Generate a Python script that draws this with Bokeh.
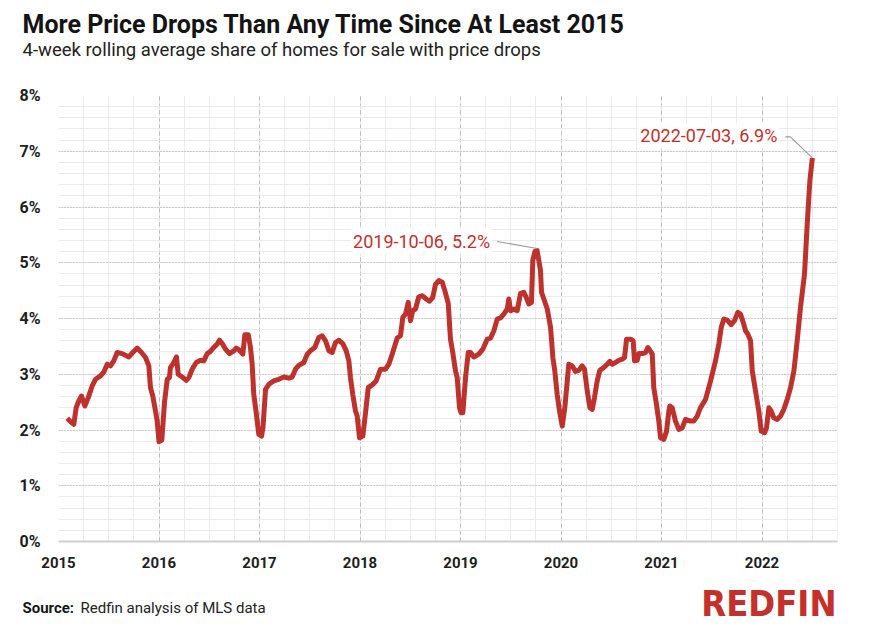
from bokeh.plotting import figure
from bokeh.layouts import column
from bokeh.models import (ColumnDataSource, SingleIntervalTicker, PrintfTickFormatter,
                          Label, Range1d)
from bokeh.embed import file_html
from bokeh.resources import INLINE

# ---------------- data (decimal year of week, share of listings with price drop, %) ----
t_2015 = [2015.087, 2015.119, 2015.152, 2015.176, 2015.202, 2015.229, 2015.262, 2015.296,
          2015.335, 2015.368, 2015.418, 2015.451, 2015.485, 2015.517, 2015.550, 2015.584,
          2015.634, 2015.700, 2015.739, 2015.783, 2015.826, 2015.866, 2015.899, 2015.915,
          2015.938, 2015.965, 2015.982]
v_2015 = [2.21, 2.15, 2.10, 2.40, 2.52, 2.61, 2.43, 2.58, 2.79, 2.91, 2.97, 3.04, 3.18, 3.15,
          3.24, 3.39, 3.37, 3.31, 3.39, 3.47, 3.39, 3.30, 3.15, 2.76, 2.61, 2.34, 2.16]

t_2016 = [2016.000, 2016.028, 2016.055, 2016.082, 2016.104, 2016.114, 2016.147, 2016.174,
          2016.191, 2016.231, 2016.271, 2016.297, 2016.330, 2016.370, 2016.413, 2016.446,
          2016.480, 2016.512, 2016.545, 2016.579, 2016.602, 2016.629, 2016.662, 2016.701,
          2016.744, 2016.768, 2016.801, 2016.834, 2016.854, 2016.888, 2016.910, 2016.927,
          2016.943, 2016.967, 2016.993]
v_2016 = [1.79, 1.82, 2.50, 2.91, 2.94, 3.12, 3.21, 3.31, 3.00, 2.95, 2.89, 2.94, 3.09, 3.21,
          3.25, 3.24, 3.37, 3.41, 3.48, 3.54, 3.61, 3.55, 3.45, 3.37, 3.42, 3.47, 3.43, 3.36,
          3.71, 3.71, 3.48, 3.18, 2.64, 2.31, 1.92]

t_2017 = [2017.020, 2017.035, 2017.060, 2017.093, 2017.142, 2017.192, 2017.242, 2017.292,
          2017.325, 2017.358, 2017.391, 2017.441, 2017.475, 2017.507, 2017.550, 2017.590,
          2017.624, 2017.657, 2017.690, 2017.723, 2017.756, 2017.789, 2017.829, 2017.863,
          2017.889, 2017.905, 2017.928, 2017.955, 2017.972, 2017.995]
v_2017 = [1.89, 2.05, 2.73, 2.82, 2.88, 2.91, 2.95, 2.93, 2.95, 3.09, 3.16, 3.21, 3.36, 3.42,
          3.48, 3.66, 3.69, 3.60, 3.42, 3.39, 3.57, 3.61, 3.55, 3.42, 3.24, 2.94, 2.64, 2.34,
          2.25, 1.86]

t_2018 = [2018.028, 2018.055, 2018.082, 2018.121, 2018.161, 2018.204, 2018.254, 2018.287,
          2018.320, 2018.370, 2018.403, 2018.426, 2018.453, 2018.480, 2018.502, 2018.525,
          2018.552, 2018.585, 2018.619, 2018.659, 2018.692, 2018.724, 2018.751, 2018.784,
          2018.818, 2018.844, 2018.878, 2018.900, 2018.923, 2018.950, 2018.967, 2018.990]
v_2018 = [1.89, 2.31, 2.76, 2.81, 2.88, 3.09, 3.09, 3.18, 3.36, 3.65, 3.69, 4.02, 4.08, 4.29,
          3.96, 4.14, 4.17, 4.39, 4.41, 4.35, 4.31, 4.38, 4.61, 4.68, 4.65, 4.50, 4.27, 3.63,
          3.39, 3.06, 2.94, 2.40]

t_2019 = [2019.005, 2019.023, 2019.050, 2019.077, 2019.100, 2019.132, 2019.182, 2019.222,
          2019.266, 2019.299, 2019.332, 2019.365, 2019.398, 2019.431, 2019.465, 2019.481,
          2019.498, 2019.531, 2019.564, 2019.597, 2019.630, 2019.654, 2019.680, 2019.706,
          2019.719, 2019.740, 2019.762, 2019.796, 2019.806, 2019.829, 2019.863, 2019.896,
          2019.919, 2019.938, 2019.962, 2019.985]
v_2019 = [2.31, 2.31, 2.94, 3.39, 3.39, 3.31, 3.36, 3.45, 3.63, 3.65, 3.78, 3.99, 4.01, 4.08,
          4.17, 4.35, 4.14, 4.17, 4.14, 4.45, 4.47, 4.38, 4.26, 4.29, 5.04, 5.20, 5.22, 4.86,
          4.47, 4.35, 4.17, 3.84, 3.30, 3.06, 2.64, 2.34]

t_2020 = [2020.012, 2020.038, 2020.062, 2020.077, 2020.112, 2020.144, 2020.177, 2020.211,
          2020.234, 2020.261, 2020.287, 2020.311, 2020.333, 2020.360, 2020.386, 2020.426,
          2020.460, 2020.486, 2020.509, 2020.542, 2020.575, 2020.609, 2020.632, 2020.652,
          2020.692, 2020.718, 2020.731, 2020.758, 2020.774, 2020.808, 2020.841, 2020.864,
          2020.884, 2020.908, 2020.923, 2020.950, 2020.973, 2020.990]
v_2020 = [2.07, 2.40, 2.88, 3.18, 3.15, 3.05, 3.07, 3.15, 3.09, 2.70, 2.40, 2.37, 2.58, 2.88,
          3.07, 3.12, 3.18, 3.23, 3.18, 3.21, 3.25, 3.27, 3.30, 3.63, 3.63, 3.60, 3.24, 3.25,
          3.37, 3.37, 3.39, 3.48, 3.43, 3.36, 2.76, 2.46, 2.16, 1.86]

t_2021 = [2021.023, 2021.050, 2021.073, 2021.083, 2021.106, 2021.139, 2021.172, 2021.206,
          2021.239, 2021.289, 2021.321, 2021.355, 2021.388, 2021.438, 2021.488, 2021.537,
          2021.570, 2021.594, 2021.620, 2021.654, 2021.693, 2021.726, 2021.759, 2021.786,
          2021.813, 2021.836, 2021.859, 2021.886, 2021.903, 2021.935, 2021.968, 2021.992]
v_2021 = [1.83, 1.98, 2.34, 2.43, 2.40, 2.16, 2.01, 2.04, 2.19, 2.16, 2.16, 2.25, 2.40, 2.55,
          2.88, 3.24, 3.54, 3.84, 3.99, 3.97, 3.89, 3.96, 4.11, 4.08, 3.93, 3.78, 3.72, 3.60,
          3.06, 2.70, 2.34, 1.98]

t_2022 = [2022.025, 2022.045, 2022.068, 2022.091, 2022.117, 2022.151, 2022.184, 2022.217,
          2022.251, 2022.284, 2022.317, 2022.350, 2022.383, 2022.423, 2022.450, 2022.476,
          2022.501]
v_2022 = [1.95, 2.04, 2.40, 2.34, 2.22, 2.19, 2.25, 2.37, 2.55, 2.76, 3.06, 3.60, 4.20, 4.80,
          5.70, 6.47, 6.88]

ann1_t, ann1_v, ann1_text = 2019.762, 5.22, "2019-10-06, 5.2%"
ann2_t, ann2_v, ann2_text = 2022.501, 6.88, "2022-07-03, 6.9%"

title = "More Price Drops Than Any Time Since At Least 2015"
subtitle = "4-week rolling average share of homes for sale with price drops"
source_bold = "Source:"
source_text = "Redfin analysis of MLS data"
logo_text = "REDFIN"

# ---------------- assemble -------------------------------------------------------------
t_all = t_2015 + t_2016 + t_2017 + t_2018 + t_2019 + t_2020 + t_2021 + t_2022
v_all = v_2015 + v_2016 + v_2017 + v_2018 + v_2019 + v_2020 + v_2021 + v_2022
src = ColumnDataSource(dict(t=t_all, v=v_all))

RED = "#be322d"
W = 872
HEAD_H = 85
BL, BR, BT, BB = 58, 35, 10, 34
FH = 446
MAIN_H = BT + FH + BB
FOOT_H = 61
X0, X1 = 2015.0, 2022.751
Y0, Y1 = 0.0, 8.0
FW = W - BL - BR
PXX = FW / (X1 - X0)   # px per year
PXY = FH / (Y1 - Y0)   # px per percent


def text_panel(h):
    f = figure(width=W, height=h, x_range=Range1d(0, W), y_range=Range1d(0, h),
               x_axis_type=None, y_axis_type=None, output_backend="svg",
               toolbar_location=None, min_border=0, outline_line_color=None,
               background_fill_color="white", border_fill_color="white",
               frame_align=False)
    f.xgrid.visible = False
    f.ygrid.visible = False
    return f


# ---- header
head = text_panel(HEAD_H)
head.add_layout(Label(x=22, y=HEAD_H - 24, text=title, text_font="Roboto",
                      text_font_style="bold", text_font_size="25px", text_color="#141414",
                      text_baseline="alphabetic"))
head.add_layout(Label(x=22, y=HEAD_H - 49, text=subtitle, text_font="Roboto",
                      text_font_size="18.5px", text_color="#222222",
                      text_baseline="alphabetic"))

# ---- main chart
p = figure(width=W, height=MAIN_H, x_range=Range1d(X0, X1), y_range=Range1d(Y0, Y1),
           output_backend="svg", toolbar_location=None,
           min_border_left=BL, min_border_right=BR, min_border_top=BT, min_border_bottom=BB,
           background_fill_color="white", border_fill_color="white", outline_line_color=None,
           frame_align=False)

xt = SingleIntervalTicker(interval=1, num_minor_ticks=4)
yt = SingleIntervalTicker(interval=1, num_minor_ticks=5)
p.xaxis.ticker = xt
p.xgrid.ticker = xt
p.yaxis.ticker = yt
p.ygrid.ticker = yt

p.xgrid.grid_line_color = "#bdbdbd"
p.xgrid.grid_line_dash = "4 3"
p.xgrid.minor_grid_line_color = "#ebebeb"
p.ygrid.grid_line_color = "#a9a9a9"
p.ygrid.grid_line_dash = "1 2"
p.ygrid.minor_grid_line_color = "#ebebeb"

for ax in (p.xaxis, p.yaxis):
    ax.major_tick_line_color = None
    ax.minor_tick_line_color = None
    ax.major_label_text_font = "Roboto"
    ax.major_label_text_font_style = "bold"
    ax.major_label_text_font_size = "15px"
    ax.major_label_text_color = "#1e1e1e"
p.yaxis.major_label_text_font_size = "16px"
p.yaxis.axis_line_color = None
p.xaxis.axis_line_color = "#d0d0d0"
p.xaxis.axis_line_width = 2
p.yaxis.formatter = PrintfTickFormatter(format="%d%%")
p.yaxis.major_label_standoff = 12
p.xaxis.major_label_standoff = 9

p.line("t", "v", source=src, line_color=RED, line_width=5, line_join="round")

# leader lines
p.line([ann1_t - 40 / PXX, ann1_t], [ann1_v + 9 / PXY, ann1_v + 2 / PXY],
       line_color="#9a9a9a", line_width=1.2)
p.line([ann2_t - 27 / PXX, ann2_t - 22 / PXX, ann2_t],
       [ann2_v + 21 / PXY, ann2_v + 21 / PXY, ann2_v],
       line_color="#9a9a9a", line_width=1.2)

p.add_layout(Label(x=ann1_t, y=ann1_v, x_offset=-45, y_offset=9, text=ann1_text,
                   text_align="right", text_baseline="middle", text_color=RED,
                   text_font="Roboto", text_font_size="18px",
                   background_fill_color="white", padding=2))
p.add_layout(Label(x=ann2_t, y=ann2_v, x_offset=-33, y_offset=22, text=ann2_text,
                   text_align="right", text_baseline="middle", text_color=RED,
                   text_font="Roboto", text_font_size="18px",
                   background_fill_color="white", padding=2))

# ---- footer
foot = text_panel(FOOT_H)
foot.add_layout(Label(x=22, y=FOOT_H - 32, text=source_bold, text_font="Roboto",
                      text_font_style="bold", text_font_size="15px", text_color="#161616",
                      text_baseline="alphabetic"))
foot.add_layout(Label(x=80, y=FOOT_H - 32, text=source_text, text_font="Roboto",
                      text_font_size="15px", text_color="#222222",
                      text_baseline="alphabetic"))
foot.add_layout(Label(x=836, y=FOOT_H - 28, text=logo_text, text_align="right",
                      text_baseline="alphabetic",
                      text_font="'Liberation Sans Narrow', 'DejaVu Sans Condensed', Roboto, sans-serif",
                      text_font_style="bold", text_font_size="36px", text_color="#c4302b"))

layout = column(head, p, foot, spacing=0)
open("out.html", "w").write(file_html(layout, INLINE))
